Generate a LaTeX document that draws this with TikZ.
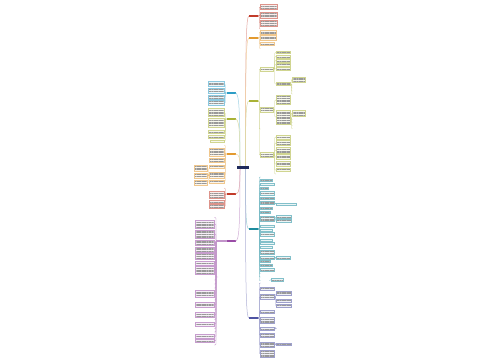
\documentclass[tikz,border=0pt]{standalone}
\usetikzlibrary{patterns.meta}
\definecolor{cNavy}{HTML}{1F2A5C}
\definecolor{cRed}{HTML}{C23B2A}
\definecolor{cOrg}{HTML}{E39A2F}
\definecolor{cOlv}{HTML}{A9B236}
\definecolor{cTeal}{HTML}{1D8C9E}
\definecolor{cInd}{HTML}{4F53A3}
\definecolor{cBlue}{HTML}{2C9DC6}
\definecolor{cPur}{HTML}{9A4CA6}
\begin{document}
\begin{tikzpicture}[x=1pt,y=-1pt,
  leaf/.style 2 args={draw=#1!55, draw opacity=#2, preaction={fill=#1!9, fill opacity=#2},
    pattern={Lines[distance=1.7pt,line width=0.5pt]}, pattern color=black!40,
    line width=0.3pt, inner sep=0pt, outer sep=0pt, rectangle},
  br/.style={fill=#1, draw=none, inner sep=0pt, outer sep=0pt, minimum width=9pt, minimum height=2.6pt},
  ln/.style={draw=#1!60, line width=0.35pt, rounded corners=0.8pt},
  mn/.style={draw=#1!45, line width=0.5pt}]
\fill[white] (0,0) rectangle (500,360);
\useasboundingbox (0,0) rectangle (500,360);

% centre and branches
\node[fill=cNavy, minimum width=12pt, minimum height=3.2pt, inner sep=0pt, outer sep=0pt] (C) at (243,167.5) {};
\node[br=cRed]  (R1) at (253.5,16) {};
\node[br=cOrg]  (R2) at (253.5,38) {};
\node[br=cOlv]  (R3) at (253.5,101) {};
\node[br=cTeal] (R4) at (253.5,229) {};
\node[br=cInd]  (R5) at (253.5,318) {};
\node[br=cBlue] (L1) at (231,93) {};
\node[br=cOlv]  (L2) at (231,119) {};
\node[br=cOrg]  (L3) at (231,154) {};
\node[br=cRed]  (L4) at (231,194) {};
\node[br=cPur]  (L5) at (231,241) {};

\draw[mn=cRed]  ([xshift=2.5pt]C.north) .. controls (245.5,46) and (246,16) .. (R1.west);
\draw[mn=cOrg]  ([xshift=2.5pt]C.north) .. controls (245.5,63) and (246,38) .. (R2.west);
\draw[mn=cOlv]  ([xshift=2.5pt]C.north) .. controls (245.5,115) and (246,101) .. (R3.west);
\draw[mn=cTeal] ([xshift=2.5pt]C.south) .. controls (245.5,215) and (246,229) .. (R4.west);
\draw[mn=cInd]  ([xshift=2.5pt]C.south) .. controls (245.5,290) and (246,318) .. (R5.west);
\draw[mn=cBlue] ([xshift=-3pt]C.north) .. controls (240,110) and (239,93) .. (L1.east);
\draw[mn=cOlv]  ([xshift=-3pt]C.north) .. controls (240,130) and (239,119) .. (L2.east);
\draw[mn=cOrg]  ([xshift=-3pt]C.north) .. controls (240,158) and (239,154) .. (L3.east);
\draw[mn=cRed]  ([xshift=-3pt]C.south) .. controls (240,188) and (239,194) .. (L4.east);
\draw[mn=cPur]  ([xshift=-3pt]C.south) .. controls (240,228) and (239,241) .. (L5.east);

% R1
\foreach \n/\y/\w/\h/\o in {r1a/7/17/5/1, r1b/15/17/6/1, r1c/23/17/6/1, r1d/29/12/1.6/0}
  \node[leaf={cRed}{\o},anchor=west,minimum width=\w pt,minimum height=\h pt] (\n) at (260.5,\y) {};
\foreach \c in {r1a,r1b,r1c,r1d} \draw[ln=cRed] (R1.east) -- ++(1.2,0) |- (\c.west);
% R2
\foreach \n/\y/\w/\h/\o in {r2a/32/16/4/1, r2b/38/16/5/1, r2c/44/14/3/1, r2d/48.5/10/1.6/0}
  \node[leaf={cOrg}{\o},anchor=west,minimum width=\w pt,minimum height=\h pt] (\n) at (260.5,\y) {};
\foreach \c in {r2a,r2b,r2c,r2d} \draw[ln=cOrg] (R2.east) -- ++(1.2,0) |- (\c.west);
% R3
\foreach \n/\y/\w/\h/\o in {r3a/69/13/4/1, r3b/110/13/5/1, r3c/129/9/1.6/0, r3d/155/13/5/1}
  \node[leaf={cOlv}{\o},anchor=west,minimum width=\w pt,minimum height=\h pt] (\n) at (260.5,\y) {};
\foreach \c in {r3a,r3b,r3c,r3d} \draw[ln=cOlv] (R3.east) -- ++(1.2,0) |- (\c.west);
\foreach \n/\y/\w/\h/\o in {a1/52.5/14/2/1, a2/56.5/14/3/1, a3/60.5/14/3/1, a4/64.5/14/3/1, a5/69/14/3/1, a6/84/14/3/1,
  b1/100/14/9/1, b2/117/14/14/1,
  d1/137/14/4/1, d2/143/14/5/1, d3/150/14/6/1, d4/157/14/5/1, d5/164/14/5/1, d6/170/14/3/1, d7/174/10/1.6/0}
  \node[leaf={cOlv}{\o},anchor=west,minimum width=\w pt,minimum height=\h pt] (\n) at (276,\y) {};
\foreach \c in {a1,a2,a3,a4,a5,a6} \draw[ln=cOlv] (r3a.east) -- ++(1.2,0) |- (\c.west);
\foreach \c in {b1,b2} \draw[ln=cOlv] (r3b.east) -- ++(1.2,0) |- (\c.west);
\foreach \c in {d1,d2,d3,d4,d5,d6,d7} \draw[ln=cOlv] (r3d.east) -- ++(1.2,0) |- (\c.west);
\foreach \n/\y/\w/\h/\o in {s1/79.5/13/5/1, s2/85/8/1.6/0, s3/88/6/1.6/0, s4/91/8/1.6/0, s5/94/12/1.6/0,
  u1/113/13/6/1, u2/119.5/6/1.6/0, u3/122.5/8/1.6/0, u4/125.5/6/1.6/0, u5/128.5/10/1.6/0}
  \node[leaf={cOlv}{\o},anchor=west,minimum width=\w pt,minimum height=\h pt] (\n) at (292.5,\y) {};
\foreach \c in {s1,s2,s3,s4,s5} \draw[ln=cOlv] (a6.east) -- ++(1.2,0) |- (\c.west);
\foreach \c in {u1,u2,u3,u4,u5} \draw[ln=cOlv] (b2.east) -- ++(1.2,0) |- (\c.west);
% R4
\foreach \n/\y/\w/\h/\o in {t01/177/9/1.6/0, t02/180.5/12/2/1, t03/184.5/14/2/1, t04/188/8/2/1, t05/193/14/4/1,
  t06/198/14/2/1, t07/203/14/3/1, t08/208/12/2/1, t09/212/10/2/1, t10/218.5/14/5/1, t11/226.5/14/2/1,
  t12/230/12/2/1, t13/234.5/14/4/1, t14/240/12/2/1, t15/243.5/14/2/1, t16/247/12/2/1, t17/252/14/4/1,
  t18/257.5/14/3/1, t19/261.5/10/2/1, t20/265.5/12/2/1, t21/269.5/14/3/1, t22/273.5/10/1.6/0,
  t23/277/8/1.6/0, t24/280.5/9/1.6/0}
  \node[leaf={cTeal}{\o},anchor=west,minimum width=\w pt,minimum height=\h pt] (\n) at (260.5,\y) {};
\foreach \c in {t01,t02,t03,t04,t05,t06,t07,t08,t09,t10,t11,t12,t13,t14,t15,t16,t17,t18,t19,t20,t21,t22,t23,t24}
  \draw[ln=cTeal] (R4.east) -- ++(1.2,0) |- (\c.west);
\foreach \n/\y/\w/\h/\o in {ta/204/20/2/1, tb1/216.5/15/3/1, tb2/221/15/3/1, tc/258/14/3/1}
  \node[leaf={cTeal}{\o},anchor=west,minimum width=\w pt,minimum height=\h pt] (\n) at (276.5,\y) {};
\node[leaf={cTeal}{1},anchor=west,minimum width=12pt,minimum height=3pt] (td) at (271.5,279.5) {};
\draw[ln=cTeal] (t07.east) -- ++(1.2,0) |- (ta.west);
\foreach \c in {tb1,tb2} \draw[ln=cTeal] (t10.east) -- ++(1.2,0) |- (\c.west);
\draw[ln=cTeal] (t18.east) -- ++(1.2,0) |- (tc.west);
\draw[ln=cTeal] (t24.east) -- (td.west);
% R5
\foreach \n/\y/\w/\h/\o in {i1/283/10/1.6/0, i2/288.5/14/3/1, i3/297/14/5/1, i4/311.5/14/3/1, i5/320/14/6/1,
  i6/328.5/14/3/1, i7/335/14/4/1, i8/344.5/14/5/1, i9/353.5/14/7/1}
  \node[leaf={cInd}{\o},anchor=west,minimum width=\w pt,minimum height=\h pt] (\n) at (260.5,\y) {};
\foreach \c in {i1,i2,i3,i4,i5,i6,i7,i8,i9} \draw[ln=cInd] (R5.east) -- ++(1.2,0) |- (\c.west);
\foreach \n/\y/\w/\h/\o in {ia/293.5/15/4/1, ib/300.5/15/3/1, ic/306/15/3/1, id/328/12/1.6/0, ie/344/15/2/1}
  \node[leaf={cInd}{\o},anchor=west,minimum width=\w pt,minimum height=\h pt] (\n) at (276.5,\y) {};
\foreach \c in {ia,ib,ic} \draw[ln=cInd] (i3.east) -- ++(1.2,0) |- (\c.west);
\draw[ln=cInd] (i6.east) -- ++(1.2,0) |- (id.west);
\draw[ln=cInd] (i8.east) -- ++(1.2,0) |- (ie.west);
% L1
\foreach \n/\y/\w/\h/\o in {la/84/16/5/1, lb/91/16/5/1, lc/97/16/4/1, ld/103/16/5/1}
  \node[leaf={cBlue}{\o},anchor=east,minimum width=\w pt,minimum height=\h pt] (\n) at (224.5,\y) {};
\foreach \c in {la,lb,lc,ld} \draw[ln=cBlue] (L1.west) -- ++(-1.2,0) |- (\c.east);
% L2
\foreach \n/\y/\w/\h/\o in {lf/112.5/16/8/1, lg/123/16/9/1, lh/131.5/16/3/1, li/136.5/16/3/1, lj/141/14/2/1}
  \node[leaf={cOlv}{\o},anchor=east,minimum width=\w pt,minimum height=\h pt] (\n) at (224.5,\y) {};
\foreach \c in {lf,lg,lh,li,lj} \draw[ln=cOlv] (L2.west) -- ++(-1.2,0) |- (\c.east);
% L3
\foreach \n/\y/\w/\h/\o in {lk/145/10/1.6/0, ll/152/15/8/1, lm/160/15/4/1, lnn/166.5/15/3/1, lo/175/15/6/1, lp/181.5/15/3/1}
  \node[leaf={cOrg}{\o},anchor=east,minimum width=\w pt,minimum height=\h pt] (\n) at (224.5,\y) {};
\foreach \c in {lk,ll,lm,lnn,lo,lp} \draw[ln=cOrg] (L3.west) -- ++(-1.2,0) |- (\c.east);
\foreach \n/\y/\w/\h/\o in {lq/168/13/6/1, lr/175.5/13/5/1, ls/182.5/13/5/1}
  \node[leaf={cOrg}{\o},anchor=east,minimum width=\w pt,minimum height=\h pt] (\n) at (207.5,\y) {};
\foreach \c in {lq,lr,ls} \draw[ln=cOrg] (lo.west) -- ++(-1.2,0) |- (\c.east);
% L4
\foreach \n/\y/\w/\h/\o in {lt/188/10/1.6/0, lu/195/15/7/1, lv/201.5/15/3/1, lw/206.5/15/4/1}
  \node[leaf={cRed}{\o},anchor=east,minimum width=\w pt,minimum height=\h pt] (\n) at (224.5,\y) {};
\foreach \c in {lt,lu,lv,lw} \draw[ln=cRed] (L4.west) -- ++(-1.2,0) |- (\c.east);
% L5
\foreach \n/\y/\w/\h/\o in {p01/217.5/12/1.6/0, p02/224/19/8/1, p03/234/19/8/1, p04/242.5/19/5/1, p05/249.5/19/5/1,
  p06/256.5/19/6/1, p07/263/19/4/1, p08/270/19/8/1, p09/280/12/1.6/0, p10/284/10/1.6/0, p11/288/12/1.6/0,
  p12/293.5/19/7/1, p13/300/10/1.6/0, p14/305/19/5/1, p15/310/12/1.6/0, p16/315/19/5/1, p17/319.5/10/1.6/0,
  p18/324/19/4/1, p19/328.5/12/1.6/0, p20/332/10/1.6/0, p21/336.5/19/4/1, p22/341/19/3/1, p23/345/12/1.6/0}
  \node[leaf={cPur}{\o},anchor=east,minimum width=\w pt,minimum height=\h pt] (\n) at (214,\y) {};
\foreach \c in {p01,p02,p03,p04,p05,p06,p07,p08,p09,p10,p11,p12,p13,p14,p15,p16,p17,p18,p19,p20,p21,p22,p23}
  \draw[ln=cPur] (L5.west) -- ++(-10.5,0) |- (\c.east);
\node[leaf={cPur}{0},anchor=west,minimum width=8pt,minimum height=1.6pt] (pm) at (218,277) {};
\draw[ln=cPur] (L5.west) -- ++(-10.5,0) |- (pm.west);
\end{tikzpicture}
\end{document}
